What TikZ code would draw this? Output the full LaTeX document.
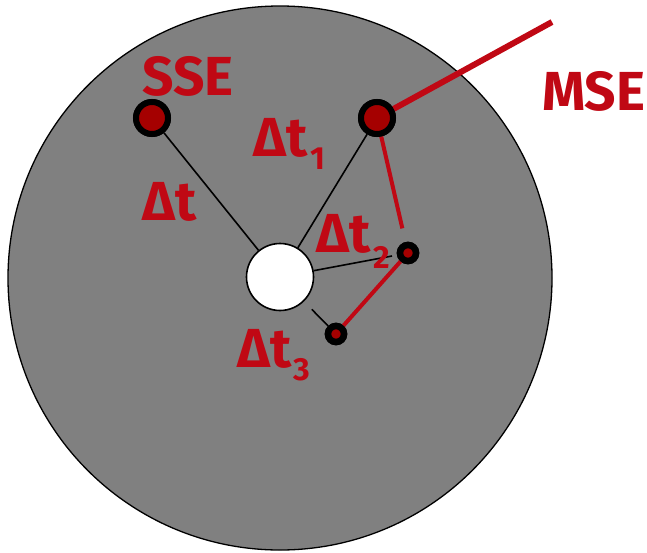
\documentclass[tikz,border=0pt]{standalone}
\usepackage{fontspec}
\setmainfont{Fira Sans}
\definecolor{tred}{RGB}{192,8,20}
\definecolor{dred}{RGB}{165,0,0}
\definecolor{disk}{RGB}{128,128,128}
\begin{document}
\begin{tikzpicture}[x=1pt,y=-1pt,
  bigdot/.style={circle,draw=black,fill=dred,line width=6pt,minimum size=32pt,inner sep=0pt},
  smalldot/.style={circle,draw=black,fill=dred,line width=6.5pt,minimum size=16pt,inner sep=0pt},
  lbl/.style={text=tred,font=\fontsize{55}{55}\selectfont\bfseries,inner sep=0pt,anchor=west},
  sub/.style={text=tred,font=\fontsize{32}{32}\selectfont\bfseries,inner sep=0pt,anchor=west},
  blk/.style={draw=black,line width=1.6pt},
  rline/.style={draw=tred,line width=4pt}]
\useasboundingbox (0,0) rectangle (647,552);
\node[circle,draw=black,fill=disk,line width=1.3pt,minimum size=544pt,inner sep=0pt] (disk) at (280,278) {};
\node[circle,draw=black,fill=white,line width=1.6pt,minimum size=67pt,inner sep=0pt] (hub) at (280,277) {};
\node[bigdot] (sse) at (152,118) {};
\node[bigdot] (mse) at (377,118) {};
\node[smalldot] (d2) at (408,253) {};
\node[smalldot] (d3) at (336,334) {};
\coordinate (far) at (552,22);
\path[blk] (sse) -- (hub);
\path[blk] (mse) -- (hub);
\path[blk,shorten >=5pt] (hub) -- (d2);
\path[blk,shorten <=11pt] (hub) -- (d3);
\path[rline,shorten >=14pt] (mse) -- (d2);
\path[rline] (d2) -- (d3);
\path[draw=tred,line width=6pt] (mse) -- (far);
\node[bigdot] at (sse) {};
\node[bigdot] at (mse) {};
\node[smalldot] at (d2) {};
\node[smalldot] at (d3) {};
\node[lbl] (ssel) at (142,76.5) {SSE};
\node[lbl] (msel) at (542,91.5) {MSE};
\node[lbl] (dt) at (142,202) {Δt};
\node[lbl] (dt1) at (253,138) {Δt};
\node[sub] (s1) at ([xshift=3pt,yshift=-20.5pt]dt1.east) {1};
\node[lbl] (dt2) at (316,234) {Δt};
\node[sub] (s2) at ([xshift=3pt,yshift=-23pt]dt2.east) {2};
\node[lbl] (dt3) at (237,349) {Δt};
\node[sub] (s3) at ([xshift=2pt,yshift=-20.5pt]dt3.east) {3};
\end{tikzpicture}
\end{document}
